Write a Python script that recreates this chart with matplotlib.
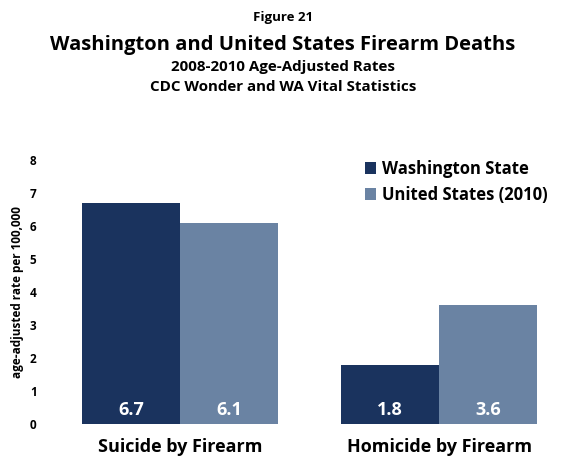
import matplotlib.pyplot as plt
import numpy as np

categories = ["Suicide by Firearm", "Homicide by Firearm"]
wa_rates = [6.7, 1.8]
us_rates = [6.1, 3.6]
series_names = ["Washington State", "United States (2010)"]
yticks = [0, 1, 2, 3, 4, 5, 6, 7, 8]

plt.rcParams['font.family'] = ['Open Sans', 'DejaVu Sans']
plt.rcParams['font.weight'] = 'bold'

dark = '#1a335e'
light = '#6a83a3'

fig = plt.figure(figsize=(5.66, 4.59), dpi=100)
ax = fig.add_axes([0.0795, 0.0763, 0.88, 0.575])

x = np.arange(len(categories))
w = 0.378
b1 = ax.bar(x - w / 2, wa_rates, w, color=dark, label=series_names[0])
b2 = ax.bar(x + w / 2, us_rates, w, color=light, label=series_names[1])

for bars, vals in ((b1, wa_rates), (b2, us_rates)):
    for bar, v in zip(bars, vals):
        ax.text(bar.get_x() + bar.get_width() / 2, 0.42, "%.1f" % v,
                ha='center', va='center', color='white', fontsize=13, fontweight='bold')

ax.set_xlim(-0.52, 1.4)
ax.set_ylim(0, 8)
ax.set_yticks(yticks)
ax.set_xticks(x)
ax.set_xticklabels(categories, fontsize=13, fontweight='bold')
ax.tick_params(axis='x', length=0, pad=10)
ax.tick_params(axis='y', length=0, pad=6, labelsize=8.5)
for s in ax.spines.values():
    s.set_visible(False)
ax.set_ylabel("age-adjusted rate per 100,000", fontsize=8.5, fontweight='bold', labelpad=4)

ax.legend(loc='upper left', bbox_to_anchor=(0.612, 1.058), frameon=False,
          handlelength=0.7, handleheight=0.7, handletextpad=0.35,
          labelspacing=0.5, prop={'weight': 'bold', 'size': 12})

fig.text(0.5, 1 - 18 / 459, "Figure 21", ha='center', va='center', fontsize=9.5, fontweight='bold')
fig.text(0.5, 1 - 45 / 459, "Washington and United States Firearm Deaths", ha='center', va='center',
         fontsize=14.5, fontweight='bold')
fig.text(0.5, 1 - 67 / 459, "2008-2010 Age-Adjusted Rates", ha='center', va='center',
         fontsize=10.9, fontweight='bold')
fig.text(0.5, 1 - 87 / 459, "CDC Wonder and WA Vital Statistics", ha='center', va='center',
         fontsize=10.9, fontweight='bold')

fig.savefig('out.png', dpi=100)
